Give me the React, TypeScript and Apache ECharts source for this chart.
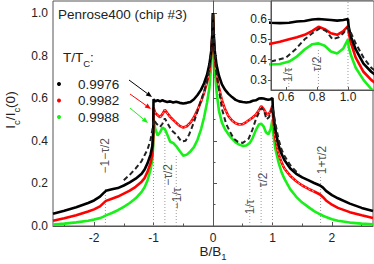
import React, { useEffect, useRef } from "react";
import * as echarts from "echarts";

const FONT = "'Liberation Sans', Arial, Helvetica, sans-serif";

// B/B1 sample positions shared by the three measured curves
const X = [
  -2.69, -2.5, -2.3, -2.1, -2.0, -1.9, -1.85, -1.8, -1.7, -1.6, -1.5, -1.4, -1.3, -1.2, -1.15, -1.1, -1.05, -1.02, -1.005,
  -1.0, -0.97, -0.93, -0.89, -0.85, -0.81, -0.77, -0.72, -0.67, -0.62, -0.56, -0.5, -0.44, -0.38, -0.32, -0.26, -0.2, -0.15, -0.1, -0.06, -0.03, -0.012,
  0,
  0.012, 0.03, 0.06, 0.1, 0.15, 0.2, 0.26, 0.32, 0.38, 0.44, 0.5, 0.56, 0.62, 0.67, 0.72, 0.77, 0.81, 0.85, 0.89, 0.93, 0.97, 1.0,
  1.005, 1.02, 1.05, 1.1, 1.15, 1.2, 1.3, 1.4, 1.5, 1.6, 1.7, 1.8, 1.85, 1.9, 2.0, 2.1, 2.3, 2.5, 2.69,
];

const BLACK = [
  0.058, 0.072, 0.088, 0.108, 0.12, 0.138, 0.152, 0.165, 0.172, 0.178, 0.19, 0.205, 0.222, 0.245, 0.265, 0.295, 0.335, 0.375, 0.44,
  0.595, 0.585, 0.59, 0.585, 0.59, 0.585, 0.582, 0.585, 0.58, 0.583, 0.578, 0.575, 0.578, 0.582, 0.595, 0.615, 0.64, 0.67, 0.71, 0.76, 0.82, 0.9,
  1.0,
  0.9, 0.82, 0.755, 0.705, 0.665, 0.64, 0.62, 0.605, 0.592, 0.585, 0.582, 0.58, 0.582, 0.588, 0.59, 0.598, 0.6, 0.598, 0.595, 0.592, 0.595, 0.6,
  0.56, 0.51, 0.45, 0.38, 0.34, 0.31, 0.27, 0.245, 0.228, 0.215, 0.202, 0.19, 0.18, 0.165, 0.145, 0.13, 0.105, 0.085, 0.07,
];

const RED = [
  0.025, 0.036, 0.05, 0.068, 0.078, 0.092, 0.105, 0.118, 0.128, 0.138, 0.152, 0.166, 0.184, 0.208, 0.225, 0.255, 0.295, 0.335, 0.41,
  0.555, 0.53, 0.52, 0.51, 0.525, 0.545, 0.53, 0.512, 0.498, 0.485, 0.47, 0.462, 0.468, 0.485, 0.51, 0.545, 0.585, 0.625, 0.675, 0.73, 0.8, 0.89,
  1.0,
  0.89, 0.79, 0.71, 0.65, 0.59, 0.55, 0.515, 0.495, 0.482, 0.476, 0.478, 0.488, 0.5, 0.51, 0.522, 0.542, 0.562, 0.55, 0.53, 0.522, 0.54, 0.565,
  0.53, 0.48, 0.41, 0.34, 0.3, 0.27, 0.235, 0.21, 0.19, 0.175, 0.162, 0.148, 0.135, 0.12, 0.1, 0.085, 0.065, 0.05, 0.038,
];

const GREEN = [
  0.007, 0.011, 0.017, 0.025, 0.03, 0.037, 0.043, 0.05, 0.061, 0.074, 0.09, 0.108, 0.13, 0.16, 0.182, 0.215, 0.265, 0.31, 0.38,
  0.5, 0.455, 0.425, 0.44, 0.462, 0.455, 0.43, 0.395, 0.39, 0.375, 0.352, 0.33, 0.335, 0.35, 0.37, 0.405, 0.455, 0.51, 0.58, 0.65, 0.75, 0.87,
  1.0,
  0.87, 0.74, 0.63, 0.54, 0.485, 0.455, 0.43, 0.41, 0.392, 0.382, 0.376, 0.378, 0.39, 0.415, 0.45, 0.476, 0.48, 0.468, 0.44, 0.43, 0.455, 0.5,
  0.46, 0.42, 0.36, 0.3, 0.255, 0.222, 0.172, 0.137, 0.11, 0.09, 0.07, 0.055, 0.048, 0.042, 0.032, 0.025, 0.016, 0.011, 0.008,
];

// theoretical curve (black dashed)
const THEORY_X = [
  -1.5, -1.4, -1.3, -1.2, -1.1, -1.05, -1.02, -1.0, -0.95, -0.89, -0.85, -0.81, -0.76, -0.7, -0.61, -0.53, -0.46, -0.4,
  -0.33, -0.27, -0.22, -0.15, -0.1, -0.05, -0.02, 0, 0.02, 0.05, 0.1, 0.15, 0.22, 0.29, 0.35, 0.42, 0.5, 0.55,
  0.6, 0.66, 0.72, 0.77, 0.82, 0.86, 0.9, 0.94, 0.97, 1.0, 1.02, 1.05, 1.1, 1.15, 1.2, 1.3, 1.4, 1.45,
];
const THEORY_Y = [
  0.215, 0.24, 0.27, 0.305, 0.36, 0.405, 0.45, 0.5, 0.48, 0.465, 0.48, 0.505, 0.48, 0.45, 0.427, 0.396, 0.4, 0.43,
  0.48, 0.53, 0.575, 0.63, 0.68, 0.76, 0.86, 1.0, 0.86, 0.74, 0.64, 0.55, 0.48, 0.44, 0.41, 0.395, 0.39, 0.4,
  0.41, 0.45, 0.5, 0.53, 0.555, 0.54, 0.5, 0.51, 0.53, 0.56, 0.53, 0.48, 0.41, 0.36, 0.33, 0.285, 0.255, 0.245,
];

const SERIES_NAMES = ["0.9976", "0.9982", "0.9988"];
const COLORS = ["#000000", "#ff0000", "#19f019"];

const X_TICKS = [-2, -1, 0, 1, 2];
const X_MINOR = [-2.5, -1.5, -0.5, 0.5, 1.5, 2.5];
const Y_TICKS = [0, 0.2, 0.4, 0.6, 0.8, 1.0];
const Y_MINOR = [0.1, 0.3, 0.5, 0.7, 0.9];
const INSET_X_TICKS = [0.6, 0.8, 1.0];
const INSET_Y_TICKS = [0.3, 0.4, 0.5, 0.6];

// reference field lines (dotted) in main plot
const REF_X = [-1.809, -1, -0.809, -0.618, 0.618, 0.809, 1, 1.809];
const REF_TOP = [0.18, 0.5, 0.44, 0.33, 0.36, 0.45, 0.5, 0.24];
const REF_LABEL_TEXT = ["−1−τ/2", "−τ/2", "−1/τ", "1/τ", "τ/2", "1+τ/2"];
const REF_LABEL_X = [-1.809, -0.76, -0.605, 0.62, 0.84, 1.83];
const REF_LABEL_Y = [0.33, 0.24, 0.13, 0.09, 0.216, 0.31];

// inset reference lines
const INSET_REF_X = [0.618, 0.809, 1.0];
const INSET_REF_TOP = [0.37, 0.45, 0.689];
const INSET_LABEL_TEXT = ["1/τ", "τ/2"];
const INSET_LABEL_X = [0.613, 0.8];
const INSET_LABEL_Y = [0.325, 0.378];

const pairs = (xs: number[], ys: number[]) => xs.map((x, i) => [x, ys[i]]);

function arrow(x1: number, y1: number, x2: number, y2: number, color: string) {
  const dx = x2 - x1;
  const dy = y2 - y1;
  const len = Math.sqrt(dx * dx + dy * dy);
  const ux = dx / len;
  const uy = dy / len;
  const bx = x2 - ux * 6;
  const by = y2 - uy * 6;
  const nx = -uy * 2.5;
  const ny = ux * 2.5;
  return [
    { type: "line", shape: { x1, y1, x2: bx, y2: by }, style: { stroke: color, lineWidth: 1 }, z: 20 },
    {
      type: "polygon",
      shape: { points: [[x2, y2], [bx + nx, by + ny], [bx - nx, by - ny]] },
      style: { fill: color },
      z: 20,
    },
  ];
}

export default function App() {
  const ref = useRef<HTMLDivElement>(null);

  useEffect(() => {
    if (!ref.current) return;
    const chart = echarts.init(ref.current, undefined, { renderer: "svg" });

    const axisColor = "#555";
    const labelStyle = { fontSize: 12, color: "#222", fontFamily: FONT };

    const measured = [BLACK, RED, GREEN];
    const order = [2, 1, 0];

    const mainCurves: any[] = [];
    const insetCurves: any[] = [];
    order.forEach((k) => {
      mainCurves.push({
        type: "line",
        name: SERIES_NAMES[k],
        xAxisIndex: 0,
        yAxisIndex: 0,
        data: pairs(X, measured[k]),
        showSymbol: false,
        symbol: "circle",
        lineStyle: { color: COLORS[k], width: 2.6 },
        itemStyle: { color: COLORS[k] },
        z: 3,
        silent: true,
      });
      insetCurves.push({
        type: "line",
        xAxisIndex: 2,
        yAxisIndex: 2,
        data: pairs(X, measured[k]),
        showSymbol: false,
        lineStyle: { color: COLORS[k], width: 2.6 },
        z: 11,
        silent: true,
      });
      if (k === 1) {
        mainCurves.push({
          type: "line",
          xAxisIndex: 0,
          yAxisIndex: 0,
          data: pairs(X, RED).filter((p) => p[0] >= -1 && p[0] <= 1.7),
          showSymbol: false,
          lineStyle: { color: "#ffffff", width: 0.8, type: [2, 2], opacity: 0.85 },
          z: 3,
          silent: true,
        });
      }
    });

    const theoryMain = {
      type: "line",
      xAxisIndex: 0,
      yAxisIndex: 0,
      data: pairs(THEORY_X, THEORY_Y),
      showSymbol: false,
      lineStyle: { color: "#222", width: 2, type: [5, 3] },
      z: 4,
      silent: true,
    };
    const theoryInset = { ...theoryMain, xAxisIndex: 2, yAxisIndex: 2, z: 12 };

    const refLines = REF_X.map((x, i) => ({
      type: "line",
      xAxisIndex: 0,
      yAxisIndex: 0,
      data: [
        [x, 0],
        [x, REF_TOP[i]],
      ],
      showSymbol: false,
      lineStyle: { color: "#9a9a9a", width: 1, type: [1, 2] },
      z: 1,
      silent: true,
    }));

    const insetRefLines = INSET_REF_X.map((x, i) => ({
      type: "line",
      xAxisIndex: 2,
      yAxisIndex: 2,
      data: [
        [x, 0.25],
        [x, INSET_REF_TOP[i]],
      ],
      showSymbol: false,
      lineStyle: { color: "#9a9a9a", width: 1, type: [1, 2] },
      z: 10.5,
      silent: true,
    }));

    const refLabels = {
      type: "scatter",
      xAxisIndex: 0,
      yAxisIndex: 0,
      symbolSize: 1,
      itemStyle: { color: "rgba(0,0,0,0)" },
      data: REF_LABEL_TEXT.map((t, i) => ({ name: t, value: [REF_LABEL_X[i], REF_LABEL_Y[i]] })),
      label: {
        show: true,
        position: "inside",
        rotate: 90,
        formatter: (p: any) => p.name,
        fontSize: 12,
        color: "#222",
        fontFamily: FONT,
      },
      z: 5,
      silent: true,
    };

    const insetLabels = {
      ...refLabels,
      xAxisIndex: 2,
      yAxisIndex: 2,
      data: INSET_LABEL_TEXT.map((t, i) => ({ name: t, value: [INSET_LABEL_X[i], INSET_LABEL_Y[i]] })),
      z: 13,
    };

    const sub = {
      a: { fontSize: 13.5, fontFamily: FONT, fill: "#222", lineHeight: 18, verticalAlign: "top" },
      s: { fontSize: 9.5, fontFamily: FONT, fill: "#222", lineHeight: 10, verticalAlign: "bottom" },
    };
    const subX = {
      a: { fontSize: 13.5, fontFamily: FONT, fill: "#222", lineHeight: 17, verticalAlign: "top" },
      s: { fontSize: 9.5, fontFamily: FONT, fill: "#222", lineHeight: 10, verticalAlign: "bottom" },
    };

    const option: any = {
      animation: false,
      textStyle: { fontFamily: FONT },
      grid: [
        { left: 53, right: 1, top: 1, bottom: 38, show: true, borderColor: axisColor, borderWidth: 1 },
        {
          left: 271,
          right: 0,
          top: 1,
          bottom: 174,
          show: true,
          backgroundColor: "#ffffff",
          borderColor: axisColor,
          borderWidth: 1,
          z: 10,
        },
      ],
      xAxis: [
        {
          gridIndex: 0,
          type: "value",
          min: -2.69,
          max: 2.69,
          axisLine: { show: true, lineStyle: { color: axisColor } },
          axisTick: { show: true, inside: true, length: 4, customValues: X_TICKS, lineStyle: { color: axisColor } },
          axisLabel: {
            ...labelStyle,
            lineHeight: 12,
            customValues: X_TICKS,
            margin: 6,
            formatter: (v: number) => String(v),
          },
          splitLine: { show: false },
        },
        {
          gridIndex: 0,
          type: "value",
          position: "bottom",
          min: -2.69,
          max: 2.69,
          axisLine: { show: false },
          axisTick: { show: true, inside: true, length: 2.5, customValues: X_MINOR, lineStyle: { color: axisColor } },
          axisLabel: { show: false },
          splitLine: { show: false },
        },
        {
          gridIndex: 1,
          type: "value",
          min: 0.503,
          max: 1.168,
          z: 14,
          axisLine: { show: true, lineStyle: { color: axisColor } },
          axisTick: { show: true, inside: true, length: 3, customValues: INSET_X_TICKS, lineStyle: { color: axisColor } },
          axisLabel: { ...labelStyle, customValues: INSET_X_TICKS, margin: 1, formatter: (v: number) => v.toFixed(1) },
          splitLine: { show: false },
        },
      ],
      yAxis: [
        {
          gridIndex: 0,
          type: "value",
          min: 0,
          max: 1.056,
          axisLine: { show: true, lineStyle: { color: axisColor } },
          axisTick: { show: true, inside: true, length: 4, customValues: Y_TICKS, lineStyle: { color: axisColor } },
          axisLabel: { ...labelStyle, customValues: Y_TICKS, margin: 5, formatter: (v: number) => v.toFixed(1) },
          splitLine: { show: false },
        },
        {
          gridIndex: 0,
          type: "value",
          position: "left",
          min: 0,
          max: 1.056,
          axisLine: { show: false },
          axisTick: { show: true, inside: true, length: 2.5, customValues: Y_MINOR, lineStyle: { color: axisColor } },
          axisLabel: { show: false },
          splitLine: { show: false },
        },
        {
          gridIndex: 1,
          type: "value",
          min: 0.25,
          max: 0.689,
          z: 14,
          axisLine: { show: true, lineStyle: { color: axisColor } },
          axisTick: { show: true, inside: false, length: 3, customValues: INSET_Y_TICKS, lineStyle: { color: axisColor } },
          axisLabel: { ...labelStyle, customValues: INSET_Y_TICKS, margin: 4, formatter: (v: number) => v.toFixed(1) },
          splitLine: { show: false },
        },
      ],
      legend: {
        show: true,
        orient: "vertical",
        left: 52,
        top: 72,
        icon: "circle",
        itemWidth: 28,
        itemHeight: 4,
        itemGap: 2.5,
        selectedMode: false,
        data: SERIES_NAMES,
        textStyle: { fontSize: 13.5, color: "#222", fontFamily: FONT, lineHeight: 14, padding: 0 },
      },
      graphic: [
        {
          type: "text",
          x: 58,
          y: 14,
          style: { text: "Penrose400 (chip #3)", fontSize: 13.5, fontFamily: FONT, fill: "#222", verticalAlign: "middle" },
          z: 20,
        },
        {
          type: "text",
          x: 63,
          y: 59,
          style: { text: "{a|T/T}{s|C}{a|:}", rich: sub, verticalAlign: "middle", align: "left" },
          z: 20,
        },
        {
          type: "text",
          x: 12.5,
          y: 110,
          rotation: Math.PI / 2,
          style: { text: "{a|I}{s|c}{a|/I}{s|c}{a|(0)}", rich: sub, verticalAlign: "middle", align: "center" },
          z: 20,
        },
        {
          type: "text",
          x: 213,
          y: 252.5,
          style: { text: "{a|B/B}{s|1}", rich: subX, verticalAlign: "middle", align: "center" },
          z: 20,
        },
        ...arrow(129, 80, 152, 97, COLORS[0]),
        ...arrow(130, 94, 151, 109, COLORS[1]),
        ...arrow(130, 108, 148, 123, COLORS[2]),
      ],
      series: [...refLines, refLabels, ...mainCurves, theoryMain, ...insetRefLines, ...insetCurves, theoryInset, insetLabels],
    };

    chart.setOption(option);
    return () => chart.dispose();
  }, []);

  return <div ref={ref} style={{ position: "absolute", left: 0, top: 0, width: 374, height: 264 }} />;
}
